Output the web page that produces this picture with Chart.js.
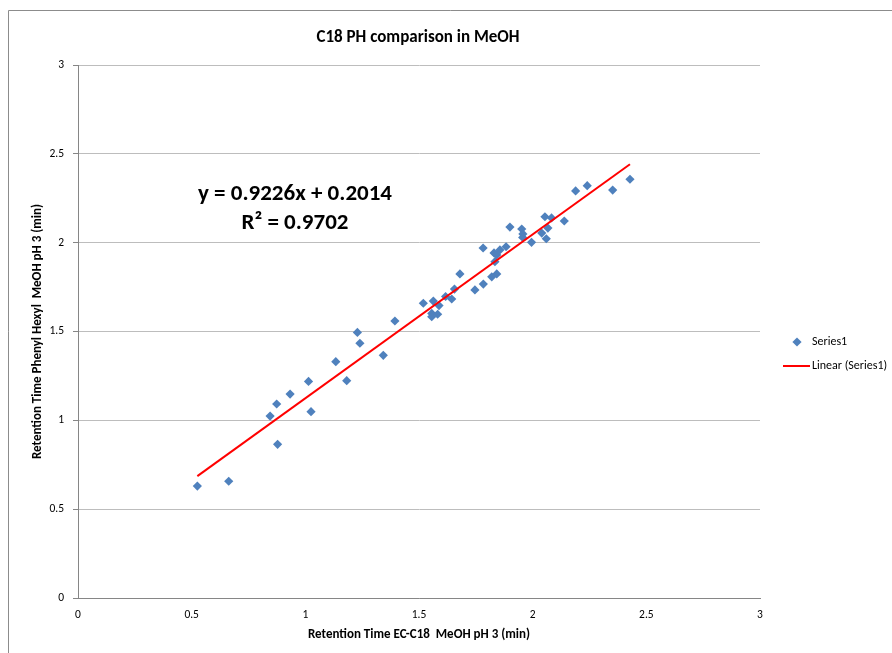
<!DOCTYPE html>
<html>
<head>
<meta charset="utf-8">
<title>C18 PH comparison in MeOH</title>
<script src="https://cdn.jsdelivr.net/npm/chart.js@4/dist/chart.umd.min.js"></script>
<style>
  html, body { margin: 0; padding: 0; background: #ffffff; overflow: hidden; }
  #wrap { position: relative; width: 892px; height: 653px; }
  canvas { display: block; }
</style>
</head>
<body>
<div id="wrap"><canvas id="chart" width="892" height="653"></canvas></div>
<script>
// Retention times (min) of each compound on the two columns, MeOH pH 3
const ecC18Times = [
  0.525, 0.663, 0.845, 0.874, 0.878, 0.933, 1.014, 1.025, 1.134, 1.182,
  1.229, 1.240, 1.343, 1.394, 1.519, 1.563, 1.556, 1.556, 1.582, 1.588,
  1.617, 1.644, 1.656, 1.680, 1.746, 1.783, 1.782, 1.820, 1.842, 1.830,
  1.834, 1.842, 1.856, 1.883, 1.900, 1.952, 1.957, 1.956, 1.995, 2.040,
  2.054, 2.060, 2.067, 2.083, 2.139, 2.189, 2.240, 2.352, 2.428
];
const phenylHexylTimes = [
  0.630, 0.657, 1.024, 1.092, 0.865, 1.148, 1.219, 1.049, 1.330, 1.223,
  1.495, 1.434, 1.366, 1.559, 1.659, 1.671, 1.602, 1.583, 1.597, 1.646,
  1.697, 1.683, 1.739, 1.824, 1.734, 1.767, 1.970, 1.808, 1.824, 1.942,
  1.893, 1.931, 1.959, 1.977, 2.088, 2.077, 2.049, 2.029, 2.002, 2.054,
  2.146, 2.022, 2.082, 2.139, 2.122, 2.291, 2.321, 2.296, 2.357
];

// Least-squares fit as reported on the chart
const trendSlope = 0.9226;
const trendIntercept = 0.2014;
const trendRSquared = 0.9702;

// Axis ranges and tick step (both axes)
const axisMin = 0;
const axisMax = 3;
const axisStep = 0.5;

const seriesName = 'Series1';
const trendName = 'Linear (Series1)';
const chartTitle = 'C18 PH comparison in MeOH';
const xAxisTitle = 'Retention Time EC-C18  MeOH pH 3 (min)';
const yAxisTitle = 'Retention Time Phenyl Hexyl  MeOH pH 3 (min)';

const FONT = 'Carlito, Lato, sans-serif';
const POINT_BLUE = '#4F81BD';
const TREND_RED = '#FF0000';

const points = ecC18Times.map((x, i) => ({ x: x, y: phenylHexylTimes[i] }));
const xLo = Math.min(...ecC18Times);
const xHi = Math.max(...ecC18Times);
const trendPoints = [
  { x: xLo, y: trendSlope * xLo + trendIntercept },
  { x: xHi, y: trendSlope * xHi + trendIntercept }
];

// Frame, title, fit equation and legend drawn onto the canvas
const decorations = {
  id: 'decorations',
  beforeDraw(chart) {
    const ctx = chart.ctx;
    ctx.save();
    ctx.fillStyle = '#ffffff';
    ctx.fillRect(0, 0, chart.width, chart.height);
    ctx.strokeStyle = '#8C8C8C';
    ctx.lineWidth = 1;
    ctx.beginPath();
    ctx.moveTo(8.5, chart.height);
    ctx.lineTo(8.5, 10.5);
    ctx.lineTo(chart.width, 10.5);
    ctx.stroke();
    ctx.restore();
  },
  afterDraw(chart) {
    const ctx = chart.ctx;
    const area = chart.chartArea;
    ctx.save();
    ctx.fillStyle = '#000000';
    ctx.textAlign = 'center';
    ctx.textBaseline = 'middle';

    // title
    ctx.font = 'bold 17px ' + FONT;
    ctx.fillText(chartTitle, (area.left + area.right) / 2 - 1, 38);

    // fit equation
    ctx.font = 'bold 23px ' + FONT;
    const eqX = area.left + 217;
    ctx.fillText('y = ' + trendSlope.toFixed(4) + 'x + ' + trendIntercept.toFixed(4), eqX, area.top + 129);
    ctx.fillText('R\u00B2 = ' + trendRSquared.toFixed(4), eqX, area.top + 158);

    // legend
    const lx = area.right + 23;
    ctx.textAlign = 'left';
    ctx.font = '12px ' + FONT;
    ctx.fillStyle = POINT_BLUE;
    ctx.beginPath();
    const dx = lx + 14, dy = 342, r = 4.6;
    ctx.moveTo(dx, dy - r);
    ctx.lineTo(dx + r, dy);
    ctx.lineTo(dx, dy + r);
    ctx.lineTo(dx - r, dy);
    ctx.closePath();
    ctx.fill();
    ctx.fillStyle = '#000000';
    ctx.fillText(seriesName, lx + 29, dy);

    ctx.strokeStyle = TREND_RED;
    ctx.lineWidth = 2;
    ctx.beginPath();
    ctx.moveTo(lx, 366);
    ctx.lineTo(lx + 27, 366);
    ctx.stroke();
    ctx.fillText(trendName, lx + 29, 366);
    ctx.restore();
  }
};

const plainNumber = (value) => String(value);

new Chart(document.getElementById('chart'), {
  type: 'scatter',
  data: {
    datasets: [
      {
        label: seriesName,
        data: points,
        order: 1,
        pointStyle: 'rectRot',
        pointRadius: 4.6,
        pointHoverRadius: 4.6,
        backgroundColor: POINT_BLUE,
        borderColor: POINT_BLUE,
        borderWidth: 0
      },
      {
        type: 'line',
        label: trendName,
        data: trendPoints,
        order: 0,
        borderColor: TREND_RED,
        borderWidth: 2,
        pointRadius: 0,
        pointHoverRadius: 0,
        fill: false,
        tension: 0
      }
    ]
  },
  options: {
    responsive: false,
    animation: false,
    events: [],
    layout: { padding: { top: 65, right: 132, left: 0, bottom: 0 } },
    plugins: {
      legend: { display: false },
      tooltip: { enabled: false },
      title: { display: false }
    },
    scales: {
      x: {
        type: 'linear',
        min: axisMin,
        max: axisMax,
        ticks: {
          stepSize: axisStep,
          padding: 10,
          color: '#000000',
          font: { family: FONT, size: 11.5 },
          maxRotation: 0,
          callback: plainNumber
        },
        grid: { color: 'rgba(0,0,0,0)', drawTicks: false },
        border: { color: '#868686', width: 1 },
        title: {
          display: true,
          text: xAxisTitle,
          color: '#000000',
          font: { family: FONT, size: 13, weight: 'bold' },
          padding: { top: 0, bottom: 10 }
        },
        afterFit(scale) { scale.height = 55; }
      },
      y: {
        type: 'linear',
        min: axisMin,
        max: axisMax,
        ticks: {
          stepSize: axisStep,
          padding: 9,
          color: '#000000',
          font: { family: FONT, size: 11.5 },
          callback: plainNumber
        },
        grid: { color: '#BDBDBD', tickLength: 5, tickColor: '#868686' },
        border: { color: '#868686', width: 1 },
        title: {
          display: true,
          text: yAxisTitle,
          color: '#000000',
          font: { family: FONT, size: 13, weight: 'bold' },
          padding: { top: 30, bottom: 0 }
        },
        afterFit(scale) { scale.width = 78; }
      }
    }
  },
  plugins: [decorations]
});
</script>
</body>
</html>
